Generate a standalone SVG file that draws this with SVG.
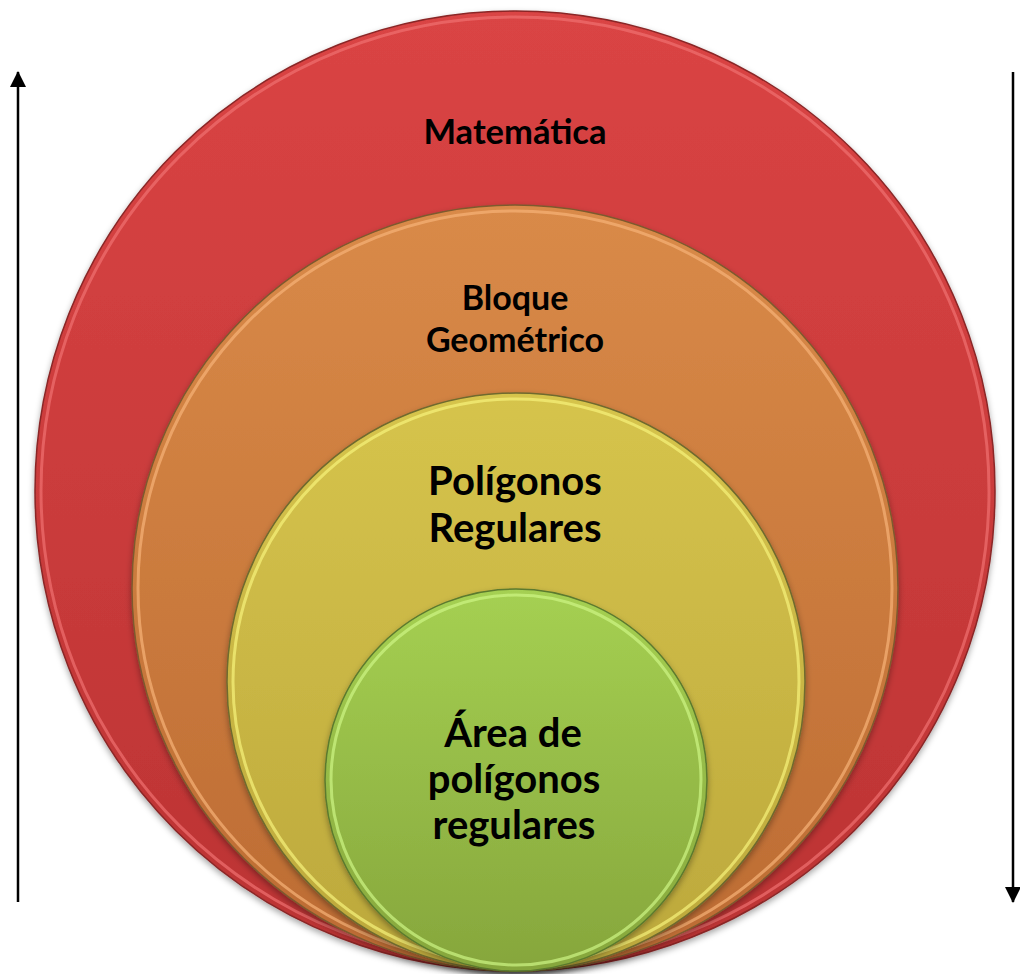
<svg xmlns="http://www.w3.org/2000/svg" width="1020" height="974" viewBox="0 0 1020 974">
<defs>
<linearGradient id="gRed" x1="0" y1="0" x2="0" y2="1"><stop offset="0" stop-color="#da4444"/><stop offset="1" stop-color="#bb3333"/></linearGradient>
<linearGradient id="gOrange" x1="0" y1="0" x2="0" y2="1"><stop offset="0" stop-color="#d98a48"/><stop offset="1" stop-color="#bc6b33"/></linearGradient>
<linearGradient id="gYellow" x1="0" y1="0" x2="0" y2="1"><stop offset="0" stop-color="#d6c44c"/><stop offset="1" stop-color="#bca83c"/></linearGradient>
<linearGradient id="gGreen" x1="0" y1="0" x2="0" y2="1"><stop offset="0" stop-color="#a5d052"/><stop offset="1" stop-color="#86a63c"/></linearGradient>
<filter id="sh" x="-10%" y="-10%" width="120%" height="125%"><feDropShadow dx="0" dy="3" stdDeviation="3" flood-color="#000" flood-opacity="0.35"/></filter>
<marker id="ah" viewBox="0 0 16 16" refX="15" refY="8" markerWidth="16" markerHeight="16" markerUnits="userSpaceOnUse" orient="auto"><path d="M0,0 L16,8 L0,16 Z" fill="#000"/></marker>
</defs>
<style>
.ring{stroke-width:1.5}
.rim{fill:none;stroke-width:3;opacity:0.7}
.lbl{font-family:Lato,"Liberation Sans",sans-serif;font-weight:bold;fill:#000;text-anchor:middle}
</style>
<rect width="1020" height="974" fill="#fff"/>
<g id="connectors" stroke="#000" stroke-width="2.5" fill="none">
<line x1="18" y1="902" x2="18" y2="72" marker-end="url(#ah)"/>
<line x1="1013" y1="72" x2="1013" y2="902" marker-end="url(#ah)"/>
</g>
<g id="matematica">
<circle class="ring" cx="515" cy="491" r="480" fill="url(#gRed)" stroke="#8a2626" filter="url(#sh)"/>
<circle class="rim" cx="515" cy="491" r="474" stroke="#f07070"/>
<text class="lbl" x="515" y="144" font-size="34.5">Matemática</text>
</g>
<g id="bloque">
<circle class="ring" cx="515" cy="588" r="383" fill="url(#gOrange)" stroke="#7d5a2e" filter="url(#sh)"/>
<circle class="rim" cx="515" cy="588" r="377" stroke="#f7b277"/>
<text class="lbl" font-size="34"><tspan x="515" y="310">Bloque</tspan><tspan x="515" y="352">Geométrico</tspan></text>
</g>
<g id="poligonos">
<circle class="ring" cx="516" cy="682" r="289" fill="url(#gYellow)" stroke="#6f6a2e" filter="url(#sh)"/>
<circle class="rim" cx="516" cy="682" r="283" stroke="#f6f27a"/>
<text class="lbl" font-size="40"><tspan x="515" y="495">Polígonos</tspan><tspan x="515" y="542">Regulares</tspan></text>
</g>
<g id="area">
<circle class="ring" cx="516" cy="780" r="191" fill="url(#gGreen)" stroke="#5b7a2e" filter="url(#sh)"/>
<circle class="rim" cx="516" cy="780" r="185" stroke="#cdf585"/>
<text class="lbl" font-size="40"><tspan x="513" y="747">Área de</tspan><tspan x="514" y="793">polígonos</tspan><tspan x="514" y="839">regulares</tspan></text>
</g>
</svg>
